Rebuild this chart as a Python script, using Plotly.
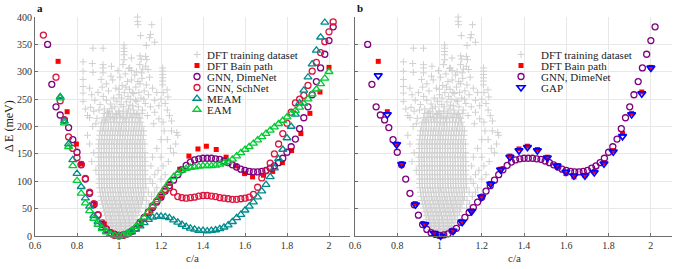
import plotly.graph_objects as go

FONT = "Liberation Serif"

# ---------------- data ----------------
x_ticks = [0.6, 0.8, 1.0, 1.2, 1.4, 1.6, 1.8, 2.0]
x_ticktext = ["0.6", "0.8", "1", "1.2", "1.4", "1.6", "1.8", "2"]
y_ticks = [0, 50, 100, 150, 200, 250, 300, 350, 400]

# DFT training dataset (dense core, by energy level)
train_levels = [2, 7, 12, 18, 24, 30, 37, 44, 51, 58, 65, 72, 80, 88, 96, 104, 112, 120,
                128, 136, 144, 152, 160, 168, 176, 184, 192, 200, 208, 216, 224]
train_rows = [
    [0.984, 0.996, 1.008, 1.018],
    [0.968, 0.979, 0.991, 1.002, 1.013, 1.025, 1.034],
    [0.958, 0.97, 0.983, 0.995, 1.006, 1.019, 1.031, 1.043],
    [0.951, 0.963, 0.976, 0.988, 1.0, 1.012, 1.025, 1.037, 1.049, 1.058],
    [0.946, 0.958, 0.97, 0.982, 0.995, 1.007, 1.019, 1.031, 1.044, 1.056, 1.068],
    [0.94, 0.953, 0.965, 0.977, 0.989, 1.001, 1.014, 1.026, 1.038, 1.05, 1.063, 1.077],
    [0.936, 0.948, 0.96, 0.972, 0.985, 0.997, 1.009, 1.021, 1.034, 1.046, 1.058, 1.07, 1.086],
    [0.931, 0.943, 0.956, 0.968, 0.98, 0.992, 1.004, 1.017, 1.029, 1.041, 1.053, 1.066, 1.078, 1.094],
    [0.926, 0.938, 0.951, 0.963, 0.975, 0.987, 1.0, 1.012, 1.024, 1.036, 1.049, 1.061, 1.073, 1.086, 1.1, 1.128],
    [0.921, 0.934, 0.946, 0.958, 0.97, 0.983, 0.995, 1.007, 1.019, 1.032, 1.044, 1.056, 1.068, 1.081, 1.093, 1.106, 1.142],
    [0.917, 0.929, 0.941, 0.954, 0.966, 0.978, 0.99, 1.003, 1.015, 1.027, 1.039, 1.052, 1.064, 1.076, 1.088, 1.101, 1.112, 1.13],
    [0.913, 0.925, 0.937, 0.95, 0.962, 0.974, 0.986, 0.999, 1.011, 1.023, 1.035, 1.048, 1.06, 1.072, 1.084, 1.097, 1.109, 1.118, 1.155],
    [0.91, 0.922, 0.934, 0.946, 0.959, 0.971, 0.983, 0.995, 1.008, 1.02, 1.032, 1.044, 1.057, 1.069, 1.081, 1.093, 1.106, 1.118, 1.14, 1.17],
    [0.907, 0.919, 0.931, 0.944, 0.956, 0.968, 0.98, 0.993, 1.005, 1.017, 1.029, 1.042, 1.054, 1.066, 1.078, 1.091, 1.103, 1.115, 1.128, 1.18],
    [0.905, 0.917, 0.929, 0.941, 0.954, 0.966, 0.978, 0.99, 1.003, 1.015, 1.027, 1.039, 1.052, 1.064, 1.076, 1.088, 1.101, 1.113, 1.125, 1.16],
    [0.906, 0.918, 0.93, 0.943, 0.955, 0.967, 0.979, 0.992, 1.004, 1.016, 1.028, 1.041, 1.053, 1.065, 1.077, 1.09, 1.102, 1.114, 1.126, 1.148, 1.2],
    [0.904, 0.916, 0.928, 0.94, 0.953, 0.965, 0.977, 0.989, 1.002, 1.014, 1.026, 1.038, 1.051, 1.063, 1.075, 1.087, 1.1, 1.112, 1.124, 1.17, 1.22],
    [0.89, 0.905, 0.917, 0.929, 0.942, 0.954, 0.966, 0.978, 0.991, 1.003, 1.015, 1.027, 1.04, 1.052, 1.064, 1.076, 1.089, 1.101, 1.113, 1.125, 1.186],
    [0.903, 0.915, 0.927, 0.94, 0.952, 0.964, 0.976, 0.989, 1.001, 1.013, 1.025, 1.038, 1.05, 1.062, 1.074, 1.087, 1.099, 1.111, 1.123, 1.152, 1.21],
    [0.87, 0.905, 0.917, 0.929, 0.941, 0.954, 0.966, 0.978, 0.99, 1.003, 1.015, 1.027, 1.039, 1.052, 1.064, 1.076, 1.088, 1.101, 1.113, 1.125, 1.235],
    [0.902, 0.914, 0.926, 0.939, 0.951, 0.963, 0.975, 0.988, 1.0, 1.012, 1.024, 1.037, 1.049, 1.061, 1.073, 1.086, 1.098, 1.11, 1.122, 1.16, 1.2],
    [0.88, 0.904, 0.916, 0.928, 0.94, 0.953, 0.965, 0.977, 0.989, 1.002, 1.014, 1.026, 1.038, 1.051, 1.063, 1.075, 1.087, 1.1, 1.112, 1.124, 1.26],
    [0.905, 0.917, 0.93, 0.942, 0.954, 0.966, 0.979, 0.991, 1.003, 1.015, 1.028, 1.04, 1.052, 1.064, 1.077, 1.089, 1.101, 1.113, 1.18, 1.245],
    [0.86, 0.903, 0.915, 0.927, 0.939, 0.952, 0.964, 0.976, 0.988, 1.001, 1.013, 1.025, 1.037, 1.05, 1.062, 1.074, 1.086, 1.099, 1.111, 1.123, 1.27],
    [0.906, 0.918, 0.93, 0.943, 0.955, 0.967, 0.979, 0.992, 1.004, 1.016, 1.028, 1.041, 1.053, 1.065, 1.077, 1.09, 1.102, 1.114, 1.2, 1.23],
    [0.85, 0.908, 0.92, 0.932, 0.944, 0.957, 0.969, 0.981, 0.993, 1.006, 1.018, 1.03, 1.042, 1.055, 1.067, 1.079, 1.091, 1.104, 1.116, 1.28],
    [0.91, 0.922, 0.934, 0.947, 0.959, 0.971, 0.983, 0.996, 1.008, 1.02, 1.032, 1.045, 1.057, 1.069, 1.081, 1.094, 1.106, 1.118, 1.215, 1.25],
    [0.875, 0.914, 0.926, 0.938, 0.95, 0.963, 0.975, 0.987, 0.999, 1.012, 1.024, 1.036, 1.048, 1.061, 1.073, 1.085, 1.097, 1.11],
    [0.918, 0.932, 0.948, 0.961, 0.977, 0.99, 1.004, 1.019, 1.033, 1.047, 1.062, 1.076, 1.09, 1.104, 1.21],
    [0.86, 0.925, 0.941, 0.957, 0.972, 0.988, 1.003, 1.018, 1.034, 1.049, 1.065, 1.08, 1.096],
    [0.93, 0.95, 0.968, 0.985, 1.002, 1.02, 1.037, 1.054, 1.072, 1.09, 1.11],
]
# DFT training dataset (sparse, high-energy points)
train_sparse_ca = [1.088, 1.088, 1.09, 1.156, 1.103, 1.15, 1.146, 1.17, 1.13, 0.876, 0.924,
                   1.024, 1.024, 1.024, 1.024, 1.024, 1.1, 1.105, 1.059, 1.127, 1.132,
                   0.829, 0.829, 0.829, 0.829, 0.829, 0.829, 0.873, 0.876, 0.924, 0.924, 0.924,
                   0.964, 1.019, 1.051, 1.059, 1.099, 1.107, 1.127, 1.138,
                   1.208, 1.208, 1.208, 1.208, 1.208, 1.208, 1.229, 1.233,
                   0.86, 0.87, 0.885, 0.9, 0.91, 0.92, 0.925, 0.93, 0.94, 0.95,
                   0.955, 0.96, 0.97, 0.975, 0.98, 0.985, 0.99, 1.0, 1.005, 1.01,
                   1.015, 1.02, 1.025, 1.03, 1.035, 1.04, 1.045, 1.05, 1.055, 1.06,
                   1.065, 1.07, 1.075, 1.08, 1.085, 1.09, 1.095, 1.1, 1.105, 1.11,
                   1.12, 1.125, 1.13, 1.14, 1.145, 1.16, 1.17, 1.18, 1.19, 1.21,
                   1.22, 1.23, 1.24, 0.84, 0.85, 0.865, 0.88, 0.895, 1.25, 1.275]
train_sparse_dE = [400, 392, 386, 386, 366, 368, 362, 354, 348, 343, 343,
                   349, 343, 337, 331, 322, 329, 323, 325, 328, 322,
                   318, 301, 286, 273, 261, 246, 315, 299, 313, 307, 298,
                   310, 313, 307, 302, 313, 298, 310, 304,
                   307, 301, 295, 289, 283, 276, 267, 254,
                   270, 258, 248, 262, 240, 272, 255, 232, 248, 265,
                   228, 241, 285, 252, 236, 270, 222, 258, 290, 240,
                   275, 228, 262, 296, 245, 282, 232, 268, 250, 285,
                   238, 260, 294, 272, 246, 282, 262, 278, 252, 288,
                   265, 242, 276, 258, 290, 270, 248, 262, 238, 262,
                   242, 230, 220, 232, 220, 235, 228, 215, 210, 189]
# DFT training dataset (mid band, 200-300 meV)
train_mid_ca = [0.935, 0.945, 0.958, 0.966, 0.978, 0.99, 0.997, 1.008, 1.012, 1.022,
                1.028, 1.04, 1.043, 1.052, 1.061, 1.068, 1.078, 1.084, 1.092, 1.1,
                1.112, 1.118, 0.94, 0.962, 0.995, 1.033, 1.047, 1.063, 1.083, 1.113,
                1.135, 1.15, 1.17, 1.19, 1.2, 1.165, 0.905, 0.89, 0.915, 1.0]
train_mid_dE = [212, 226, 218, 233, 214, 246, 228, 219, 252, 236,
                214, 224, 255, 239, 217, 230, 248, 222, 236, 215,
                230, 250, 278, 292, 302, 272, 306, 262, 300, 305,
                220, 236, 226, 214, 250, 205, 230, 205, 286, 268]

# DFT Bain path
bain_ca = [0.71, 0.753, 0.797, 0.821, 0.886, 0.93, 0.975, 1.005, 1.064, 1.107, 1.152, 1.199,
           1.242, 1.289, 1.333, 1.376, 1.416, 1.463, 1.51, 1.556, 1.598, 1.636, 1.688, 1.732,
           1.778, 1.822, 1.866, 1.909, 1.957, 2.0]
bain_dE = [319, 227, 168, 132, 59, 22, 5, 0, 9, 26, 46, 72, 96, 122, 146, 159, 164, 158, 144,
           128, 114, 108, 111, 118, 134, 156, 187, 224, 263, 308]

# GAP
gap_dE = [293, 222, 167, 131, 57, 21, 5, 0, 9, 25, 45, 71, 95, 121, 144, 156, 162, 156, 143,
          128, 117, 110, 110, 116, 132, 154, 182, 222, 260, 307]

# GNN, DimeNet
dime_ca = [0.66, 0.68, 0.70, 0.72, 0.74, 0.76, 0.78, 0.80, 0.82, 0.84, 0.86, 0.88, 0.90, 0.92,
           0.94, 0.96, 0.98, 1.00, 1.02, 1.04, 1.06, 1.08, 1.10, 1.12, 1.14, 1.16, 1.18, 1.20,
           1.22, 1.24, 1.26, 1.28, 1.30, 1.32, 1.34, 1.36, 1.38, 1.40, 1.42, 1.44, 1.46, 1.48,
           1.50, 1.52, 1.54, 1.56, 1.58, 1.60, 1.62, 1.64, 1.66, 1.68, 1.70, 1.72, 1.74, 1.76,
           1.78, 1.80, 1.82, 1.84, 1.86, 1.88, 1.90, 1.92, 1.94, 1.96, 1.98, 2.00, 2.02]
dime_dE = [350, 277, 236, 221, 212, 198, 176, 153, 130, 104, 78, 57, 38, 21,
           12, 6, 3, 1, 2, 4, 9, 14, 25, 34, 43, 52, 62, 71,
           82, 92, 102, 112, 121, 129, 135, 139, 141, 142, 142, 142, 141, 140,
           137, 134, 130, 126, 122, 120, 118, 117, 117, 118, 120, 124, 128, 134,
           142, 153, 163, 177, 196, 216, 236, 258, 282, 307, 332, 357, 382]

# GNN, SchNet
schnet_ca = [0.64, 0.70, 0.72, 0.74, 0.76, 0.78, 0.80, 0.82, 0.84, 0.86, 0.88, 0.90, 0.92,
             0.94, 0.96, 0.98, 1.00, 1.02, 1.04, 1.06, 1.08, 1.10, 1.12, 1.14, 1.16, 1.18,
             1.20, 1.22, 1.24, 1.26, 1.28, 1.30, 1.32, 1.34, 1.36, 1.38, 1.40, 1.42, 1.44,
             1.46, 1.48, 1.50, 1.52, 1.54, 1.56, 1.58, 1.60, 1.62, 1.64, 1.66, 1.68, 1.70,
             1.72, 1.74, 1.76, 1.78, 1.80, 1.82, 1.84, 1.86, 1.88, 1.90, 1.92, 1.94, 1.96,
             1.98, 2.00, 2.02]
schnet_dE = [367, 290, 247, 212, 181, 160, 143, 131, 105, 80, 59, 39, 24,
             13, 5, 1, 0, 1, 4, 8, 14, 22, 32, 44, 55, 64,
             74, 85, 88, 80, 72, 70, 69, 70, 71, 73, 74, 74, 73,
             72, 70, 69, 68, 67, 67, 68, 69, 71, 76, 89, 106, 119,
             133, 150, 168, 187, 206, 226, 243, 250, 257, 275, 301, 317, 335,
             355, 373, 391]

# MEAM
meam_ca = [0.72, 0.74, 0.76, 0.78, 0.80, 0.82, 0.84, 0.86, 0.88, 0.90, 0.92, 0.94, 0.96, 0.98,
           1.00, 1.02, 1.04, 1.06, 1.08, 1.10, 1.12, 1.14, 1.16, 1.18, 1.20, 1.22, 1.24, 1.26,
           1.28, 1.30, 1.32, 1.34, 1.36, 1.38, 1.40, 1.42, 1.44, 1.46, 1.48, 1.50, 1.52, 1.54,
           1.56, 1.58, 1.60, 1.62, 1.64, 1.66, 1.68, 1.70, 1.72, 1.74, 1.76, 1.78, 1.80, 1.82,
           1.84, 1.86, 1.88, 1.90, 1.92, 1.94, 1.96, 1.98]
meam_dE = [254, 210, 168, 139, 114, 90, 69, 54, 37, 26, 15, 8, 3, 0.6,
           0, 1, 3, 7, 12, 18, 24, 30, 34, 36, 36, 35, 33, 29,
           25, 21, 17, 14, 12, 10, 10, 9, 10, 11, 13, 16, 20, 26,
           33, 39, 47, 54, 62, 71, 82, 94, 108, 124, 141, 158, 179, 200,
           222, 243, 266, 290, 314, 339, 363, 390]

# EAM
eam_ca = [0.72, 0.74, 0.76, 0.78, 0.80, 0.82, 0.84, 0.86, 0.88, 0.90, 0.92, 0.94, 0.96, 0.98,
          1.00, 1.02, 1.04, 1.06, 1.08, 1.10, 1.12, 1.14, 1.16, 1.18, 1.20, 1.22, 1.24, 1.26,
          1.28, 1.30, 1.32, 1.34, 1.36, 1.38, 1.40, 1.42, 1.44, 1.46, 1.48, 1.50, 1.52, 1.54,
          1.56, 1.58, 1.60, 1.62, 1.64, 1.66, 1.68, 1.70, 1.72, 1.74, 1.76, 1.78, 1.80, 1.82,
          1.84, 1.86, 1.88, 1.90, 1.92, 1.94, 1.96, 1.98, 2.00]
eam_dE = [252, 206, 163, 128, 101, 78, 60, 46, 32, 21, 13, 7, 3, 1,
          0, 2, 5, 10, 17, 25, 34, 44, 55, 66, 77, 88, 99, 108,
          115, 120, 123, 125, 126, 127, 128, 128, 128, 129, 131, 133, 136, 140,
          146, 152, 158, 163, 169, 175, 181, 187, 193, 199, 205, 211, 217, 223,
          229, 235, 242, 250, 259, 268, 278, 288, 300]

# ---------------- build ----------------
train_ca = [c for row in train_rows for c in row] + train_sparse_ca + train_mid_ca
train_dE = ([e for e, row in zip(train_levels, train_rows) for _ in row]
            + train_sparse_dE + train_mid_dE)

C_TRAIN = "#d0d0d0"
C_BAIN = "#ff0000"
C_DIME = "#800080"
C_SCH = "#dc143c"
C_MEAM = "#008b8b"
C_EAM = "#00cc33"
C_GAP = "#0000ff"

fig = go.Figure()


def add(xs, ys, name, marker, xa, ya, lg):
    fig.add_trace(go.Scatter(x=xs, y=ys, mode="markers", name=name, marker=marker,
                             xaxis=xa, yaxis=ya, legend=lg, cliponaxis=False,
                             hoverinfo="skip"))


m_train = dict(symbol="cross-thin", size=5, color=C_TRAIN, line=dict(width=1, color=C_TRAIN))
m_bain = dict(symbol="square", size=5, color=C_BAIN, line=dict(width=0))
m_dime = dict(symbol="circle-open", size=6, color=C_DIME, line=dict(width=1.3))
m_sch = dict(symbol="circle-open", size=6, color=C_SCH, line=dict(width=1.3))
m_meam = dict(symbol="triangle-up-open", size=7, color=C_MEAM, line=dict(width=1.3))
m_eam = dict(symbol="triangle-up-open", size=7, color=C_EAM, line=dict(width=1.3))
m_gap = dict(symbol="triangle-down-open", size=7, color=C_GAP, line=dict(width=1.6))

# panel a
add(train_ca, train_dE, "DFT training dataset", m_train, "x", "y", "legend")
add(bain_ca, bain_dE, "DFT Bain path", m_bain, "x", "y", "legend")
add(dime_ca, dime_dE, "GNN, DimeNet", m_dime, "x", "y", "legend")
add(schnet_ca, schnet_dE, "GNN, SchNet", m_sch, "x", "y", "legend")
add(meam_ca, meam_dE, "MEAM", m_meam, "x", "y", "legend")
add(eam_ca, eam_dE, "EAM", m_eam, "x", "y", "legend")
# panel b
add(train_ca, train_dE, "DFT training dataset", m_train, "x2", "y2", "legend2")
add(bain_ca, bain_dE, "DFT Bain path", m_bain, "x2", "y2", "legend2")
add(dime_ca, dime_dE, "GNN, DimeNet", m_dime, "x2", "y2", "legend2")
add(bain_ca, gap_dE, "GAP", m_gap, "x2", "y2", "legend2")

tickfont = dict(family=FONT, size=10, color="#333333")
ax = dict(showgrid=True, gridcolor="#e8e8e8", gridwidth=1, zeroline=False,
          showline=True, linecolor="#6e6e6e", linewidth=1, ticks="inside",
          ticklen=3, tickcolor="#6e6e6e", tickfont=tickfont)

L, R, T, B = 35, 28, 17, 33
W, H = 700, 269
pw = W - L - R
ph = H - T - B


def px(xp):
    return (xp - L) / pw


def py(yp):
    return (H - B - yp) / ph


legend_style = dict(bgcolor="rgba(0,0,0,0)", borderwidth=0, xanchor="left", yanchor="top",
                    font=dict(family=FONT, size=11, color="#222222"), tracegroupgap=0,
                    itemclick=False, itemdoubleclick=False)

fig.update_layout(
    width=W, height=H,
    margin=dict(l=L, r=R, t=T, b=B, pad=0),
    paper_bgcolor="white", plot_bgcolor="white",
    font=dict(family=FONT),
    xaxis=dict(ax, domain=[0, px(350)], range=[0.6, 2.1], tickvals=x_ticks,
               ticktext=x_ticktext, anchor="y"),
    yaxis=dict(ax, domain=[0, 1], range=[0, 400], tickvals=y_ticks, anchor="x"),
    xaxis2=dict(ax, domain=[px(355), 1], range=[0.6, 2.1], tickvals=x_ticks,
                ticktext=x_ticktext, anchor="y2"),
    yaxis2=dict(ax, domain=[0, 1], range=[0, 400], tickvals=y_ticks, anchor="x2",
                showticklabels=False),
    legend=dict(legend_style, x=px(177), y=py(40)),
    legend2=dict(legend_style, x=px(501), y=py(40)),
    annotations=[
        dict(text="<b>a</b>", x=px(35), y=py(8), xref="paper", yref="paper",
             showarrow=False, xanchor="left", yanchor="middle",
             font=dict(family=FONT, size=11, color="#111")),
        dict(text="<b>b</b>", x=px(355), y=py(8), xref="paper", yref="paper",
             showarrow=False, xanchor="left", yanchor="middle",
             font=dict(family=FONT, size=11, color="#111")),
        dict(text="Δ E (meV)", x=px(9), y=py(126), xref="paper", yref="paper",
             showarrow=False, textangle=-90, xanchor="center", yanchor="middle",
             font=dict(family=FONT, size=12, color="#222")),
        dict(text="c/a", x=px(192.5), y=py(258), xref="paper", yref="paper",
             showarrow=False, xanchor="center", yanchor="middle",
             font=dict(family=FONT, size=11, color="#333")),
        dict(text="c/a", x=px(514), y=py(258), xref="paper", yref="paper",
             showarrow=False, xanchor="center", yanchor="middle",
             font=dict(family=FONT, size=11, color="#333")),
    ],
)

post_js = """
document.documentElement.style.margin = '0';
document.body.style.margin = '0';
document.body.style.padding = '0';
var gd = document.getElementById('{plot_id}');
function compactLegends(){
  var groups = gd.querySelectorAll('.infolayer .groups');
  groups.forEach(function(g){
    var items = g.querySelectorAll('.traces');
    var y0 = null;
    items.forEach(function(t, i){
      var tr = t.getAttribute('transform') || '';
      var m = tr.match(/translate\\(\\s*([-\\d.e]+)[\\s,]+([-\\d.e]+)\\s*\\)/);
      if(!m) return;
      var x = parseFloat(m[1]), y = parseFloat(m[2]);
      if(y0 === null) y0 = y;
      t.setAttribute('transform', 'translate(' + x + ',' + (y0 + i*11) + ')');
      var txt = t.querySelector('text.legendtext');
      if(txt){
        txt.setAttribute('x', 30);
        txt.querySelectorAll('tspan').forEach(function(s){ if(s.hasAttribute('x')) s.setAttribute('x', 30); });
      }
    });
  });
}
compactLegends();
"""

fig.write_html("out.html", include_plotlyjs=True, post_script=post_js,
               config={"displayModeBar": False})
